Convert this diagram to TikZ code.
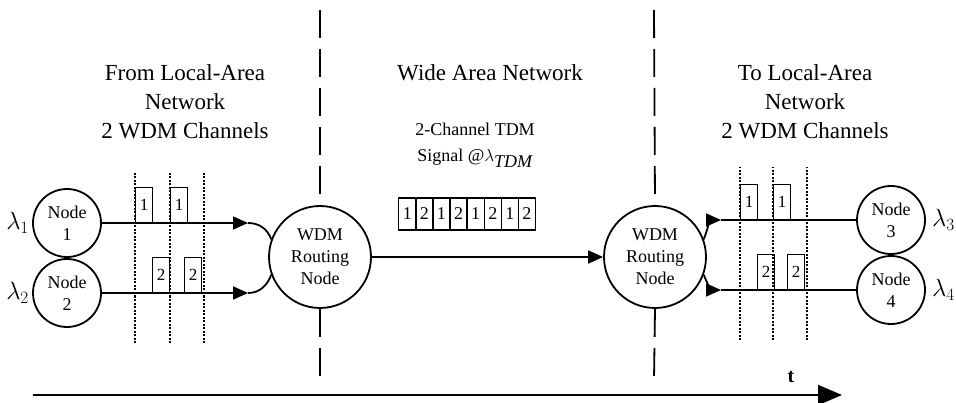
\documentclass[tikz,border=0pt]{standalone}
\usepackage{fontspec}
\setmainfont{Liberation Serif}
\usepackage{tikz}
\usetikzlibrary{arrows.meta}
\usetikzlibrary{calc}
\tikzstyle{station} = [draw, circle,
	line width=1.8pt,
	minimum size=68pt,
	inner sep=0pt,
	align=center,
	font=\fontsize{18}{22}\selectfont]
\tikzstyle{router} = [station, minimum size=102pt]
\tikzstyle{arrow} = [-{Triangle[length=15pt, width=13pt]}, line width=1.8pt]
\tikzstyle{timeaxis} = [-{Triangle[length=24pt, width=20pt]}, line width=2pt]
\tikzstyle{wire} = [line width=1.8pt]
\tikzstyle{border} = [line width=1.8pt, dash pattern=on 28pt off 11pt]
\tikzstyle{slot} = [line width=1.6pt, dash pattern=on 2pt off 1.5pt]
\tikzstyle{pulse} = [draw, line width=1.4pt,
	anchor=south west,
	minimum width=17pt,
	minimum height=35pt,
	inner sep=0pt,
	font=\fontsize{17}{17}\selectfont]
\tikzstyle{tdmcell} = [draw, line width=1.4pt,
	anchor=west,
	minimum width=17.1pt,
	minimum height=32pt,
	inner sep=0pt,
	font=\fontsize{18}{18}\selectfont]
\tikzstyle{title} = [align=center, font=\fontsize{23}{29}\selectfont]
\tikzstyle{lam} = [inner sep=0pt, font=\fontsize{25}{25}\selectfont]
\newcommand{\drawpulse}[3]{\node (#1) [pulse] at #2 {#3}}

\begin{document}
\begin{tikzpicture}[x=1pt, y=1pt]
		\useasboundingbox (0,0) rectangle (956,402);
		
		\node (n1) [station] at (67,179) {Node\\1};
		\node (n2) [station] at (67,109) {Node\\2};
		\node (wdmL) [router] at (320,145) {WDM\\Routing\\Node};
		\node (wdmR) [router] at (655,145) {WDM\\Routing\\Node};
		\node (n3) [station] at (891,182) {Node\\3};
		\node (n4) [station] at (891,112) {Node\\4};
		
		\node (l1) [lam, left=3pt] at (n1.west) {$\lambda_1$};
		\node (l2) [lam, left=3pt] at (n2.west) {$\lambda_2$};
		\node (l3) [lam, right=6pt] at (n3.east) {$\lambda_3$};
		\node (l4) [lam, right=6pt] at (n4.east) {$\lambda_4$};
		
		\node (fromLAN) [title] at (185,300) {From Local-Area\\Network\\2 WDM Channels};
		\node (wan) [title] at (490,329) {Wide Area Network};
		\node (toLAN) [title] at (805,300) {To Local-Area\\Network\\2 WDM Channels};
		\node (tdmsig) [align=center, font=\fontsize{18}{26}\selectfont] at (475,257) {2-Channel TDM\\Signal @$\lambda_{\textit{TDM}}$};
		
		\foreach \c [count=\i from 0] in {1,2,1,2,1,2,1,2}
			\node (c\i) [tdmcell] at (398+17.1*\i,188) {\c};
		
		\coordinate (tip1) at (248,179);
		\coordinate (tip2) at (248,109);
		\coordinate (tip3) at (721,182);
		\coordinate (tip4) at (721,112);
		\draw [arrow] (n1) -- (tip1);
		\draw [arrow] (n2) -- (tip2);
		\draw [wire] (tip1) to[out=0, in=110] (wdmL.160);
		\draw [wire] (tip2) to[out=0, in=-110] (wdmL.200);
		\draw [arrow] (wdmL) -- (wdmR);
		\draw [arrow] (wdmR.20) to[out=70, in=180] (tip3);
		\draw [arrow] (wdmR.-20) to[out=-70, in=180] (tip4);
		\draw [wire] (tip3) -- (n3);
		\draw [wire] (tip4) -- (n4);
		
		\foreach \x in {135,170,204}
			\draw [slot] (\x,59) -- (\x,230);
		\foreach \x in {740,773,807}
			\draw [slot] (\x,62) -- (\x,235);
		
		\drawpulse{pa1}{(135,179)}{1};
		\drawpulse{pa2}{(170,179)}{1};
		\drawpulse{pb1}{(152,109)}{2};
		\drawpulse{pb2}{(184,109)}{2};
		\drawpulse{pc1}{(740,182)}{1};
		\drawpulse{pc2}{(773,182)}{1};
		\drawpulse{pd1}{(757,112)}{2};
		\drawpulse{pd2}{(787,112)}{2};
		
		\coordinate (bL1) at (320,392);
		\coordinate (bL2) at (320,22);
		\coordinate (bR1) at (654,392);
		\coordinate (bR2) at (654,22);
		\draw [border] (bL1) -- (wdmL.north);
		\draw [border] (wdmL.south) -- (bL2);
		\draw [border] (bR1) -- (wdmR.north);
		\draw [border] (wdmR.south) -- (bR2);
		
		\coordinate (t0) at (33,7);
		\coordinate (t1) at (842,7);
		\draw [timeaxis] (t0) -- (t1);
		\node (tlab) [font=\fontsize{20}{20}\selectfont\bfseries] at (791,25) {t};
	\end{tikzpicture}
\end{document}
